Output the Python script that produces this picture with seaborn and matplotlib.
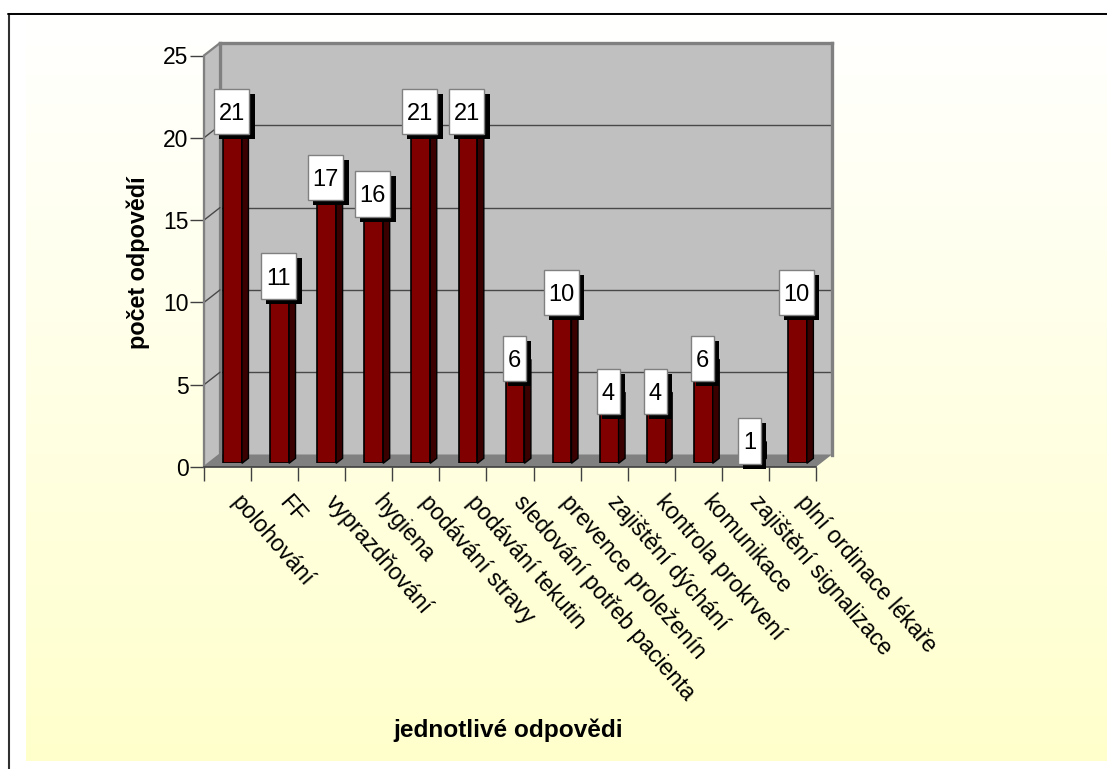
import numpy as np
import pandas as pd
import matplotlib
matplotlib.use("Agg")
import matplotlib.pyplot as plt
from matplotlib.lines import Line2D
from matplotlib.patches import Polygon, Rectangle
from matplotlib.transforms import IdentityTransform, ScaledTranslation
import seaborn as sns

categories = ["polohování", "FF", "vyprazdňování", "hygiena", "podávání stravy",
              "podávání tekutin", "sledování potřeb pacienta", "prevence proleženín",
              "zajištění dýchání", "kontrola prokrvení", "komunikace",
              "zajištění signalizace", "plní ordinace lékaře"]
counts = [21, 11, 17, 16, 21, 21, 6, 10, 4, 4, 6, 1, 10]
y_ticks = [0, 5, 10, 15, 20, 25]
x_title = "jednotlivé odpovědi"
y_title = "počet odpovědí"

W, H = 1107, 769
DPI = 100
sns.set_style("white")
plt.rcParams["font.family"] = ["Liberation Sans", "DejaVu Sans"]
plt.rcParams["text.color"] = "black"
plt.rcParams["axes.labelcolor"] = "black"
plt.rcParams["xtick.color"] = "black"
plt.rcParams["ytick.color"] = "black"
fig = plt.figure(figsize=(W / DPI, H / DPI), dpi=DPI, facecolor="white")


def rect(left, top, right, bottom):
    """Axes rectangle from pixel edges measured from the top-left corner."""
    return [left / W, 1 - bottom / H, (right - left) / W, (bottom - top) / H]


def px(x, y):
    return (x, H - y)


# plot box of the front plane, and the shifts of the depth planes
L, T, R, B = 204, 55.5, 816, 467
DX, DY = 16, 12.5
BAR_DX, BAR_DY = 5, 3.7
GREY = "#808080"
WALL = "#c0c0c0"

# page background: white fading to pale yellow
bg = fig.add_axes(rect(26, 15, W, 761), zorder=0)
shade = np.linspace(0, 1, 256)[:, None, None]
top_c = np.array([1.0, 1.0, 1.0])
bot_c = np.array([1.0, 1.0, 0.8])
bg.imshow(top_c + (bot_c - top_c) * shade, aspect="auto", interpolation="bilinear")
bg.axis("off")

# outer frame
fig.add_artist(Line2D([8.5 / W, 8.5 / W], [0, 1 - 14 / H], color="#303030", lw=1.5))
fig.add_artist(Line2D([8 / W, 1], [1 - 13 / H, 1 - 13 / H], color="#bdbdbd", lw=0.8))
fig.add_artist(Line2D([8 / W, 1], [1 - 14.3 / H, 1 - 14.3 / H], color="black", lw=1.4))

# back wall carrying the horizontal gridlines
wall = fig.add_axes(rect(L + DX, T - DY, R + DX, B - DY), zorder=1)
wall.set_facecolor(WALL)
wall.set_xlim(0, 1)
wall.set_ylim(0, 25)
wall.set_xticks([])
wall.set_yticks(y_ticks[1:-1])
wall.tick_params(left=False, labelleft=False)
wall.grid(axis="y", color="#484848", lw=1.0)
for name, sp in wall.spines.items():
    sp.set_color(GREY)
    sp.set_linewidth(2.4)
wall.spines["bottom"].set_visible(False)

# front axes: scale, ticks and titles
ax = fig.add_axes(rect(L, T, R, B), zorder=2)
ax.patch.set_alpha(0)
ax.set_xlim(-0.5, len(categories) - 0.5)
ax.set_ylim(0, 25)
for name in ("top", "right"):
    ax.spines[name].set_visible(False)
ax.spines["left"].set_color(GREY)
ax.spines["left"].set_linewidth(1.5)
ax.spines["bottom"].set_color("#404040")
ax.spines["bottom"].set_linewidth(1.2)
ax.set_yticks(y_ticks)
ax.tick_params(axis="y", length=10, width=1, color="#404040", labelsize=16.5, pad=1, left=True)
ax.set_xticks(np.arange(len(categories) + 1) - 0.5)
ax.set_xticklabels([])
ax.tick_params(axis="x", which="major", length=10, width=1, color="#404040", bottom=True)
ax.set_xticks(np.arange(len(categories)), minor=True)
ax.set_xticklabels(categories, minor=True, rotation=-49, ha="left", va="center",
                   rotation_mode="anchor", fontsize=16.6)
ax.tick_params(axis="x", which="minor", length=0, pad=23, bottom=False)
shift = ScaledTranslation(8 / DPI, 0, fig.dpi_scale_trans)
for lab in ax.get_xticklabels(minor=True):
    lab.set_transform(lab.get_transform() + shift)
ax.grid(False)
ax.set_xlabel(x_title, fontweight="bold", fontsize=17.6)
ax.xaxis.set_label_coords((508 - L) / (R - L), (B - 730) / (B - T), transform=ax.transAxes)
ax.xaxis.label.set_va("center")
ax.set_ylabel(y_title, fontweight="bold", fontsize=16.8)
ax.yaxis.set_label_coords((138 - L) / (R - L), (B - 263) / (B - T), transform=ax.transAxes)
ax.yaxis.label.set_va("center")

# floor and left side wall joining the two planes
ident = IdentityTransform()
ax.add_patch(Polygon([px(L, B), px(R, B), px(R + DX, B - DY), px(L + DX, B - DY)],
                     closed=True, fc=GREY, ec="none", transform=ident, clip_on=False, zorder=0.5))
ax.add_patch(Polygon([px(L, B), px(L + DX, B - DY), px(L + DX, T - DY), px(L, T)],
                     closed=True, fc=WALL, ec=GREY, lw=1.6, transform=ident, clip_on=False, zorder=0.6))
for v in y_ticks[1:-1]:
    y0 = ax.transData.transform((0, v))[1]
    ax.add_line(Line2D([L, L + DX], [y0, y0 + DY], color="#484848", lw=1.0,
                       transform=ident, clip_on=False, zorder=0.7))

# bars, sitting partway into the depth of the floor
axb = fig.add_axes(rect(L + BAR_DX, T - BAR_DY, R + BAR_DX, B - BAR_DY), zorder=3)
frame = pd.DataFrame({"odpoved": categories, "pocet": counts})
sns.barplot(data=frame, x="odpoved", y="pocet", ax=axb, color="#800000", saturation=1,
            width=0.4, edgecolor="black", linewidth=1.2)
axb.set_xlim(-0.5, len(categories) - 0.5)
axb.set_ylim(0, 25)
axb.axis("off")

SIDE_X, SIDE_Y = 6.5, 5
for bar in list(axb.patches):
    x1 = bar.get_x() + bar.get_width()
    x0 = bar.get_x()
    h = bar.get_height()
    (px0, py0), (px1, py1) = axb.transData.transform([(x0, 0), (x1, h)])
    axb.add_patch(Polygon([(px1, py0), (px1 + SIDE_X, py0 + SIDE_Y), (px1 + SIDE_X, py1 + SIDE_Y), (px1, py1)],
                          closed=True, fc="#3a0000", ec="black", lw=1.0, transform=ident,
                          clip_on=False, zorder=2))
    axb.add_patch(Polygon([(px0, py1), (px1, py1), (px1 + SIDE_X, py1 + SIDE_Y), (px0 + SIDE_X, py1 + SIDE_Y)],
                          closed=True, fc="#5a0000", ec="black", lw=1.0, transform=ident,
                          clip_on=False, zorder=2))

# value labels: white boxes with a hard black shadow
for i, (bar, v) in enumerate(zip(axb.patches[:len(counts)], counts)):
    cx, cy = axb.transData.transform((bar.get_x() + bar.get_width() / 2, v))
    cx -= 1
    cy += 6
    w = 35 if v >= 10 else 23
    h = 45.5
    base = 10 + i * 0.1
    axb.add_patch(Rectangle((cx - w / 2 + 5, cy - h / 2 - 5), w + 0.5, h, fc="black", ec="none",
                            transform=ident, clip_on=False, zorder=base))
    axb.add_patch(Rectangle((cx - w / 2, cy - h / 2), w, h, fc="white", ec=GREY, lw=1.0,
                            transform=ident, clip_on=False, zorder=base + 0.01))
    axb.text(cx, cy, str(v), ha="center", va="center_baseline", fontsize=17, color="black",
             transform=ident, clip_on=False, zorder=base + 0.02)

fig.savefig("out.png", dpi=DPI)
